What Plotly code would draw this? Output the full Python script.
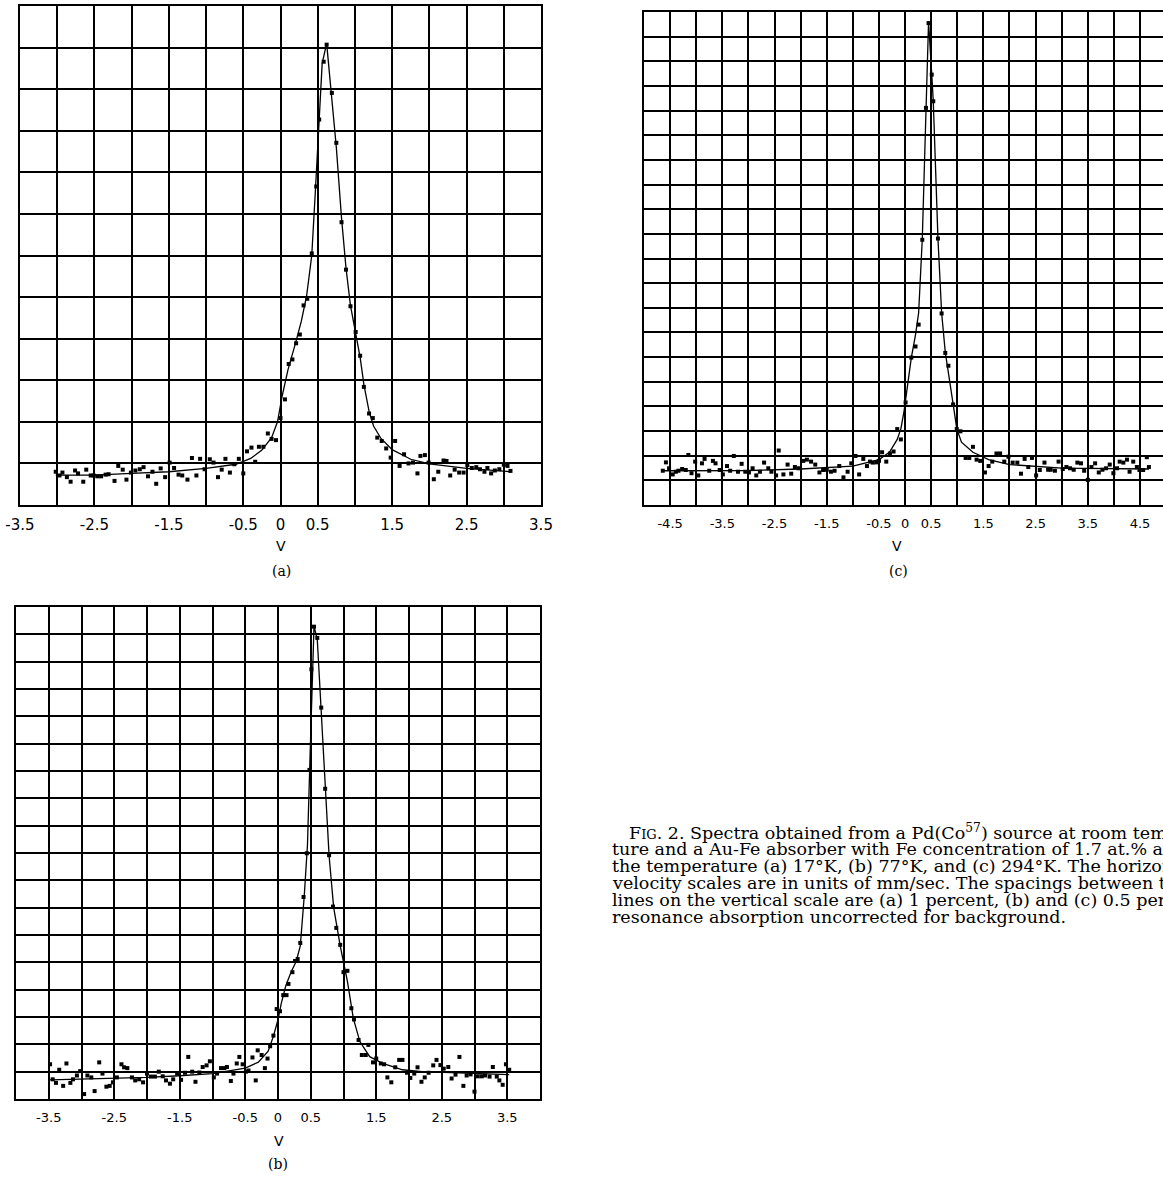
import plotly.graph_objects as go

W, H = 1163, 1178

# ---------------- data: panel (a) 17 K ----------------
a_x = [-3.02, -2.97, -2.93, -2.87, -2.82, -2.76, -2.72, -2.65, -2.61, -2.55,
       -2.51, -2.46, -2.41, -2.35, -2.31, -2.23, -2.18, -2.12, -2.07, -2.01,
       -1.95, -1.89, -1.84, -1.78, -1.72, -1.67, -1.61, -1.55, -1.49, -1.43,
       -1.37, -1.32, -1.25, -1.19, -1.13, -1.08, -1.02, -0.95, -0.90, -0.84,
       -0.79, -0.74, -0.68, -0.62, -0.56, -0.50, -0.45, -0.39, -0.34, -0.29,
       -0.23, -0.17, -0.12, -0.06, 0.00, 0.06, 0.11, 0.16, 0.21, 0.26,
       0.31, 0.36, 0.42, 0.48, 0.52, 0.58, 0.62, 0.69, 0.75, 0.82,
       0.88, 0.94, 1.01, 1.07, 1.12, 1.19, 1.24, 1.30, 1.36, 1.42,
       1.48, 1.54, 1.60, 1.66, 1.72, 1.78, 1.84, 1.88, 1.94, 1.99,
       2.06, 2.12, 2.19, 2.23, 2.28, 2.34, 2.40, 2.46, 2.51, 2.57,
       2.63, 2.68, 2.74, 2.78, 2.83, 2.88, 2.94, 3.00, 3.05, 3.09]
a_y = [0.80, 0.71, 0.78, 0.67, 0.56, 0.83, 0.76, 0.56, 0.85, 0.71,
       0.71, 0.69, 0.69, 0.73, 0.74, 0.58, 0.94, 0.85, 0.61, 0.78,
       0.83, 0.86, 0.91, 0.69, 0.80, 0.51, 0.88, 0.67, 1.02, 0.89,
       0.73, 0.71, 0.61, 1.13, 0.71, 1.11, 0.86, 1.10, 1.02, 0.67,
       0.85, 1.11, 0.78, 0.98, 1.11, 0.76, 1.29, 1.38, 1.04, 1.40,
       1.40, 1.72, 1.59, 1.56, 2.09, 2.54, 3.39, 3.50, 3.89, 4.10,
       4.80, 4.96, 6.05, 7.66, 9.27, 10.66, 11.07, 9.91, 8.71, 6.80,
       5.66, 4.78, 4.16, 3.59, 2.84, 2.20, 2.09, 1.62, 1.54, 1.36,
       1.14, 1.54, 0.94, 1.22, 1.00, 1.02, 0.76, 1.18, 1.20, 1.02,
       0.62, 0.80, 1.07, 1.06, 0.71, 0.85, 0.78, 0.78, 0.96, 0.89,
       0.91, 0.86, 0.80, 0.89, 0.76, 0.83, 0.86, 0.97, 0.94, 0.82]
a_fit_x = [-3.02, -2.5, -2.0, -1.5, -1.0, -0.6, -0.4, -0.25, -0.12, -0.04,
           0.02, 0.10, 0.20, 0.28, 0.35, 0.42, 0.47, 0.52, 0.56, 0.62,
           0.68, 0.75, 0.82, 0.88, 0.94, 1.01, 1.07, 1.12, 1.19, 1.25,
           1.35, 1.50, 1.75, 2.00, 2.50, 3.09]
a_fit_y = [0.72, 0.72, 0.76, 0.80, 0.88, 0.98, 1.12, 1.32, 1.62, 2.00,
           2.60, 3.25, 3.88, 4.42, 5.02, 6.00, 7.60, 9.30, 10.62, 11.10,
           9.90, 8.60, 6.90, 5.70, 4.80, 4.15, 3.55, 2.90, 2.25, 1.90,
           1.60, 1.33, 1.10, 0.99, 0.88, 0.80]

# ---------------- data: panel (c) 294 K ----------------
c_x = [-4.64, -4.58, -4.52, -4.45, -4.39, -4.34, -4.27, -4.20, -4.15, -4.09,
       -4.02, -3.96, -3.89, -3.84, -3.75, -3.68, -3.63, -3.55, -3.49, -3.41,
       -3.35, -3.28, -3.20, -3.13, -3.06, -2.99, -2.92, -2.85, -2.78, -2.70,
       -2.62, -2.56, -2.47, -2.42, -2.33, -2.25, -2.18, -2.11, -2.04, -1.95,
       -1.88, -1.80, -1.72, -1.64, -1.57, -1.50, -1.42, -1.35, -1.26, -1.18,
       -1.10, -1.03, -0.95, -0.88, -0.80, -0.73, -0.67, -0.62, -0.55, -0.50,
       -0.44, -0.36, -0.29, -0.22, -0.15, -0.08, 0.01, 0.12, 0.20, 0.26,
       0.33, 0.40, 0.45, 0.51, 0.54, 0.63, 0.70, 0.77, 0.83, 0.92,
       0.99, 1.06, 1.16, 1.23, 1.30, 1.37, 1.44, 1.53, 1.60, 1.67,
       1.75, 1.82, 1.90, 1.98, 2.06, 2.15, 2.22, 2.29, 2.36, 2.43,
       2.51, 2.58, 2.67, 2.74, 2.79, 2.87, 2.94, 3.02, 3.09, 3.16,
       3.23, 3.30, 3.37, 3.43, 3.50, 3.57, 3.64, 3.71, 3.78, 3.85,
       3.92, 3.99, 4.06, 4.11, 4.18, 4.25, 4.30, 4.37, 4.44, 4.49,
       4.56, 4.63, 4.67]
c_y = [1.39, 1.73, 1.49, 1.24, 1.35, 1.39, 1.46, 1.42, 2.03, 1.29,
       1.76, 1.20, 1.69, 1.87, 1.39, 1.79, 1.69, 1.42, 1.24, 1.58,
       1.39, 1.99, 1.35, 1.67, 1.35, 1.32, 1.49, 1.20, 1.35, 1.72,
       1.49, 1.35, 1.20, 2.21, 1.24, 1.64, 1.27, 1.54, 1.49, 1.79,
       1.84, 1.76, 1.64, 1.32, 1.42, 1.43, 1.35, 1.39, 1.58, 1.12,
       1.35, 1.69, 1.99, 1.24, 1.87, 1.58, 1.76, 1.72, 1.73, 1.79,
       2.14, 1.76, 2.09, 2.17, 3.08, 2.66, 4.16, 5.98, 6.43, 7.32,
       10.76, 16.11, 19.55, 17.46, 16.38, 10.81, 7.77, 6.17, 5.65, 4.08,
       3.08, 2.99, 1.91, 1.91, 2.36, 1.84, 1.79, 1.32, 1.58, 1.76,
       2.09, 2.09, 1.76, 1.96, 1.72, 1.72, 1.27, 1.87, 1.54, 1.91,
       1.20, 1.42, 1.72, 1.43, 1.43, 1.39, 1.76, 1.46, 1.54, 1.49,
       1.43, 1.72, 1.69, 1.39, 1.02, 1.54, 1.69, 1.32, 1.43, 1.49,
       1.64, 1.29, 1.49, 1.76, 1.72, 1.84, 1.35, 1.76, 1.54, 1.42,
       1.42, 1.94, 1.54]
c_fit_x = [-4.67, -3.0, -2.0, -1.0, -0.5, -0.3, -0.15, -0.08, -0.02, 0.03,
           0.12, 0.20, 0.26, 0.33, 0.40, 0.45, 0.51, 0.54, 0.63, 0.70,
           0.77, 0.84, 0.92, 0.99, 1.08, 1.30, 1.60, 2.00, 3.00, 4.67]
c_fit_y = [1.39, 1.40, 1.46, 1.58, 1.84, 2.14, 2.66, 3.10, 3.80, 4.60,
           5.98, 6.90, 7.80, 10.80, 16.10, 19.60, 17.50, 16.40, 10.80, 7.80,
           6.20, 5.30, 4.10, 3.10, 2.55, 2.14, 1.84, 1.64, 1.50, 1.46]

# ---------------- data: panel (b) 77 K ----------------
b_x = [-3.48, -3.44, -3.39, -3.34, -3.28, -3.23, -3.17, -3.13, -3.07, -3.02,
       -2.96, -2.91, -2.85, -2.80, -2.73, -2.68, -2.62, -2.57, -2.52, -2.46,
       -2.39, -2.35, -2.30, -2.23, -2.18, -2.12, -2.06, -2.00, -1.94, -1.88,
       -1.82, -1.76, -1.71, -1.65, -1.60, -1.54, -1.48, -1.42, -1.37, -1.31,
       -1.26, -1.20, -1.15, -1.09, -1.04, -0.98, -0.93, -0.87, -0.82, -0.78,
       -0.72, -0.68, -0.63, -0.59, -0.54, -0.49, -0.45, -0.39, -0.34, -0.31,
       -0.25, -0.20, -0.16, -0.12, -0.07, -0.02, 0.03, 0.08, 0.13, 0.16,
       0.22, 0.26, 0.30, 0.34, 0.39, 0.44, 0.48, 0.51, 0.55, 0.60,
       0.66, 0.72, 0.78, 0.84, 0.89, 0.95, 1.00, 1.06, 1.12, 1.16,
       1.23, 1.28, 1.34, 1.38, 1.45, 1.50, 1.57, 1.62, 1.67, 1.73,
       1.79, 1.85, 1.90, 1.97, 2.02, 2.08, 2.13, 2.19, 2.24, 2.30,
       2.37, 2.42, 2.48, 2.53, 2.60, 2.65, 2.71, 2.77, 2.83, 2.88,
       2.94, 3.00, 3.05, 3.11, 3.16, 3.23, 3.28, 3.34, 3.38, 3.43,
       3.48, 3.53]
b_y = [1.27, 0.72, 0.59, 1.07, 0.48, 1.30, 0.59, 0.72, 0.86, 1.02,
       0.18, 0.86, 0.79, 0.29, 1.34, 0.93, 0.45, 0.48, 0.61, 0.79,
       1.27, 1.16, 1.13, 0.79, 0.68, 0.72, 0.61, 0.93, 0.82, 0.82,
       1.00, 0.83, 0.68, 0.56, 0.72, 0.93, 0.70, 0.96, 1.54, 1.00,
       0.63, 0.97, 1.17, 1.23, 1.38, 0.79, 0.93, 1.13, 1.13, 1.17,
       0.66, 0.93, 1.30, 1.54, 1.27, 1.00, 1.04, 1.52, 0.68, 1.78,
       1.61, 1.13, 1.48, 1.93, 2.32, 3.29, 3.21, 3.80, 3.80, 4.21,
       4.64, 5.05, 5.12, 5.71, 7.39, 8.99, 12.04, 15.72, 17.28, 16.87,
       14.32, 11.35, 8.92, 7.04, 6.26, 5.64, 4.64, 4.69, 3.32, 2.91,
       2.16, 1.61, 1.61, 1.98, 1.34, 1.48, 1.30, 1.27, 0.79, 0.61,
       1.16, 1.43, 1.43, 0.96, 0.77, 0.93, 1.16, 0.63, 0.79, 0.96,
       1.23, 1.43, 1.24, 1.11, 1.17, 0.75, 0.89, 1.54, 0.48, 0.86,
       0.90, 0.27, 0.83, 0.83, 0.86, 0.82, 1.17, 0.82, 0.68, 0.52,
       1.27, 1.07]
b_fit_x = [-3.48, -2.5, -2.0, -1.5, -1.0, -0.5, -0.3, -0.15, -0.07, 0.0,
           0.05, 0.12, 0.20, 0.28, 0.34, 0.40, 0.45, 0.50, 0.55, 0.60,
           0.66, 0.72, 0.78, 0.85, 0.95, 1.06, 1.15, 1.25, 1.40, 1.60,
           1.90, 2.20, 3.53]
b_fit_y = [0.70, 0.75, 0.79, 0.85, 0.93, 1.13, 1.35, 1.75, 2.30, 2.90,
           3.50, 4.15, 4.65, 5.05, 5.60, 7.40, 9.30, 13.40, 17.30, 16.80,
           14.30, 11.40, 8.90, 7.00, 5.60, 4.30, 2.95, 2.10, 1.55, 1.30,
           1.07, 1.00, 0.89]

# ---------------- axis tick labels ----------------
a_labels = [-3.5, -2.5, -1.5, -0.5, 0, 0.5, 1.5, 2.5, 3.5]
b_labels = [-3.5, -2.5, -1.5, -0.5, 0, 0.5, 1.5, 2.5, 3.5]
c_labels = [-4.5, -3.5, -2.5, -1.5, -0.5, 0, 0.5, 1.5, 2.5, 3.5, 4.5]

caption_lines = [
    "F<span style='font-size:13px'>IG</span>. 2. Spectra obtained from a Pd(Co<sup>57</sup>) source at room tempera-",
    "ture and a Au-Fe absorber with Fe concentration of 1.7 at.% at",
    "the temperature (a) 17°K, (b) 77°K, and (c) 294°K. The horizontal",
    "velocity scales are in units of mm/sec. The spacings between the",
    "lines on the vertical scale are (a) 1 percent, (b) and (c) 0.5 percent",
    "resonance absorption uncorrected for background.",
]


def fmt(v):
    return "0" if v == 0 else f"{v:.1f}"


def xaxis(px0, px1, rng, labels, fsize, gw, anchor):
    n = int(round((rng[1] - rng[0]) / 0.5)) + 1
    vals = [round(rng[0] + 0.5 * i, 2) for i in range(n + 1)]
    text = [fmt(v) if any(abs(v - l) < 1e-6 for l in labels) else "" for v in vals]
    return dict(domain=[px0 / W, px1 / W], range=rng, anchor=anchor,
                automargin=False,
                tickmode="array", tickvals=vals, ticktext=text,
                showgrid=True, gridcolor="black", gridwidth=gw, zeroline=False,
                showline=True, linecolor="black", linewidth=2, mirror=True,
                ticks="outside", ticklen=5, tickcolor="rgba(0,0,0,0)",
                tickfont=dict(family="DejaVu Sans", size=fsize, color="black"),
                fixedrange=True)


def yaxis(py_top, py_bot, ymax, gw, anchor):
    return dict(domain=[1 - py_bot / H, 1 - py_top / H], range=[0, ymax],
                anchor=anchor, automargin=False,
                tickmode="array", tickvals=list(range(0, ymax + 1)),
                showticklabels=False, showgrid=True, gridcolor="black",
                gridwidth=gw, zeroline=False, showline=True, linecolor="black",
                linewidth=2, mirror=True, ticks="", fixedrange=True)


fig = go.Figure()
mk = dict(symbol="square", size=4, color="black")
ln = dict(color="black", width=1.3)
for xs, ys, fx, fy, ax in [(a_x, a_y, a_fit_x, a_fit_y, ""),
                           (c_x, c_y, c_fit_x, c_fit_y, "2"),
                           (b_x, b_y, b_fit_x, b_fit_y, "3")]:
    fig.add_trace(go.Scatter(x=fx, y=fy, mode="lines", line=ln,
                             xaxis="x" + ax, yaxis="y" + ax, hoverinfo="skip"))
    fig.add_trace(go.Scatter(x=xs, y=ys, mode="markers", marker=mk,
                             xaxis="x" + ax, yaxis="y" + ax))

fig.update_layout(
    width=W, height=H, margin=dict(l=0, r=0, t=0, b=0, autoexpand=False),
    paper_bgcolor="white", plot_bgcolor="white", showlegend=False,
    xaxis=xaxis(20, 541, [-3.5, 3.5], a_labels, 15, 1.8, "y"),
    yaxis=yaxis(6, 505, 12, 1.8, "x"),
    xaxis2=xaxis(644, 1163, [-5.0, 4.94], c_labels, 13, 1.5, "y2"),
    yaxis2=yaxis(12, 505, 20, 1.5, "x2"),
    xaxis3=xaxis(16, 540, [-4.0, 4.0], b_labels, 13, 1.5, "y3"),
    yaxis3=yaxis(607, 1099, 18, 1.5, "x3"),
)

ann = []
for txt, px, py, fam, fs in [("V", 281, 546, "DejaVu Sans", 14),
                             ("(a)", 281, 571, "DejaVu Serif", 14),
                             ("V", 897, 546, "DejaVu Sans", 14),
                             ("(c)", 898, 571, "DejaVu Serif", 14),
                             ("V", 279, 1141, "DejaVu Sans", 14),
                             ("(b)", 278, 1164, "DejaVu Serif", 14)]:
    ann.append(dict(text=txt, x=px / W, y=1 - py / H, xref="paper", yref="paper",
                    showarrow=False, xanchor="center", yanchor="middle",
                    font=dict(family=fam, size=fs, color="black")))
for i, line in enumerate(caption_lines):
    px = 627 if i == 0 else 610
    py = 832 + 17 * i
    ann.append(dict(text=line, x=px / W, y=1 - py / H, xref="paper", yref="paper",
                    showarrow=False, xanchor="left", yanchor="middle", align="left",
                    font=dict(family="DejaVu Serif", size=17.5, color="black")))
fig.update_layout(annotations=ann)

fig.write_html("out.html")
